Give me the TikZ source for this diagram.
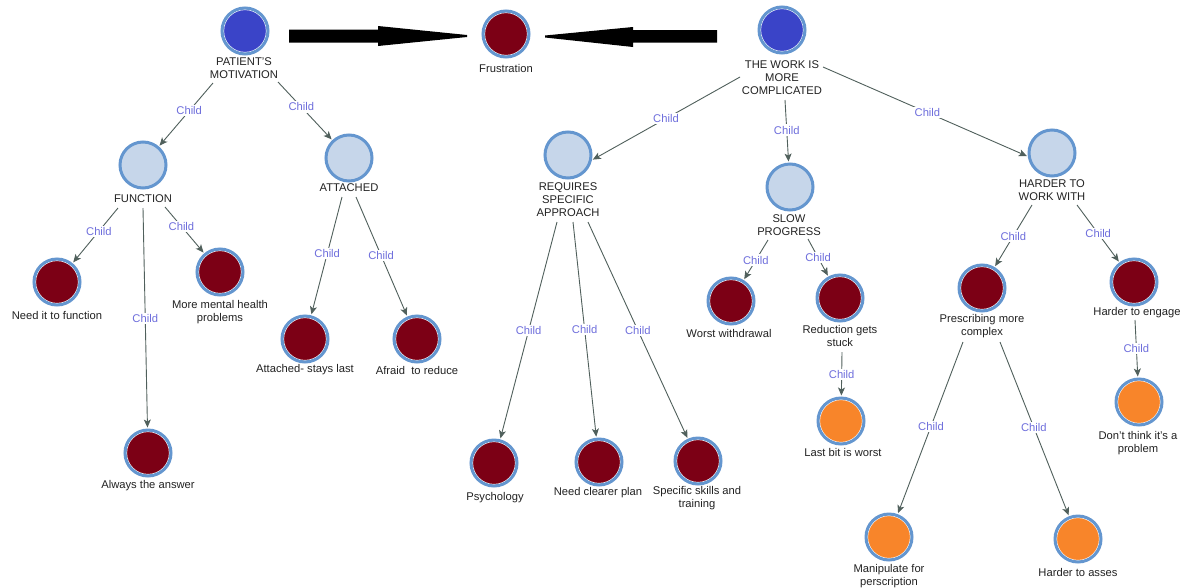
\documentclass[tikz,border=0pt]{standalone}
\usepackage{fontspec}
\setmainfont{Liberation Sans}
\usetikzlibrary{arrows.meta}

\definecolor{ring}{HTML}{6496CF}
\definecolor{topblue}{HTML}{3A44C8}
\definecolor{paleblue}{HTML}{C6D6EA}
\definecolor{darkred}{HTML}{7C0015}
\definecolor{orangefill}{HTML}{F8852A}
\definecolor{edgegray}{HTML}{50605C}
\definecolor{childblue}{HTML}{6E6EDC}
\definecolor{txt}{HTML}{222222}

\tikzset{
  concept/.style={circle, minimum size=46pt, inner sep=0pt, draw=ring, line width=3pt},
  whitering/.style={path picture={\draw[white, line width=0.9pt]
      (path picture bounding box.center) circle (21.4pt);}},
  topnode/.style={concept, fill=topblue, whitering},
  midnode/.style={concept, fill=paleblue},
  leafnode/.style={concept, fill=darkred, whitering},
  endnode/.style={concept, fill=orangefill, whitering},
  lbl/.style={font=\fontsize{11.2}{13}\selectfont, text=txt, align=center, inner sep=1pt},
  ch/.style={font=\fontsize{11.2}{13}\selectfont, text=childblue, fill=white, inner sep=1.5pt},
  edge/.style={draw=edgegray, line width=0.9pt, shorten >=1pt,
      -{Stealth[length=8pt, width=7pt, inset=2pt]}},
}

\begin{document}
\begin{tikzpicture}[x=1pt, y=-1pt]
\fill[white] (0,0) rectangle (1181,587);
\useasboundingbox (0,0) rectangle (1181,587);

% ---- concept circles ----
\node[topnode]  (PM)  at (245,31)  {};
\node[leafnode] (FR)  at (506,34)  {};
\node[topnode]  (WK)  at (782,30)  {};
\node[midnode]  (FN)  at (143,165) {};
\node[midnode]  (AT)  at (349,158) {};
\node[midnode]  (RQ)  at (568,155) {};
\node[midnode]  (SP)  at (790,187) {};
\node[midnode]  (HW)  at (1052,153) {};
\node[leafnode] (N1)  at (57,282)  {};
\node[leafnode] (N2)  at (220,272) {};
\node[leafnode] (N3)  at (148,453) {};
\node[leafnode] (N4)  at (305,339) {};
\node[leafnode] (N5)  at (417,339) {};
\node[leafnode] (N6)  at (494,463) {};
\node[leafnode] (N7)  at (599,462) {};
\node[leafnode] (N8)  at (698,461) {};
\node[leafnode] (N9)  at (731,301) {};
\node[leafnode] (N10) at (840,298) {};
\node[endnode]  (N11) at (841,421) {};
\node[leafnode] (N12) at (982,288) {};
\node[leafnode] (N13) at (1134,282) {};
\node[endnode]  (N14) at (1139,402) {};
\node[endnode]  (N15) at (889,537) {};
\node[endnode]  (N16) at (1078,539) {};

% ---- captions ----
\node[lbl] (PMt)  at (244,68)   {PATIENT'S\\MOTIVATION};
\node[lbl] (FRt)  at (506,68)   {Frustration};
\node[lbl] (WKt)  at (782,78)   {THE WORK IS\\MORE\\COMPLICATED};
\node[lbl] (FNt)  at (143,199)  {FUNCTION};
\node[lbl] (ATt)  at (349,188)  {ATTACHED};
\node[lbl] (RQt)  at (568,200)  {REQUIRES\\SPECIFIC\\APPROACH};
\node[lbl] (SPt)  at (789,225)  {SLOW\\PROGRESS};
\node[lbl] (HWt)  at (1052,190) {HARDER TO\\WORK WITH};
\node[lbl] (N1t)  at (57,315)   {Need it to function};
\node[lbl] (N2t)  at (220,312)  {More mental health\\problems};
\node[lbl] (N3t)  at (148,486)  {Always the answer};
\node[lbl] (N4t)  at (305,370)  {Attached- stays last};
\node[lbl] (N5t)  at (417,370)  {Afraid\ \ to reduce};
\node[lbl] (N6t)  at (495,498)  {Psychology};
\node[lbl] (N7t)  at (598,493)  {Need clearer plan};
\node[lbl] (N8t)  at (697,498)  {Specific skills and\\training};
\node[lbl] (N9t)  at (729,333)  {Worst withdrawal};
\node[lbl] (N10t) at (840,336)  {Reduction gets\\stuck};
\node[lbl] (N11t) at (843,452)  {Last bit is worst};
\node[lbl] (N12t) at (982,326)  {Prescribing more\\complex};
\node[lbl] (N13t) at (1137,313) {Harder to engage};
\node[lbl] (N14t) at (1138,443) {Don't think it's a\\problem};
\node[lbl] (N15t) at (889,576)  {Manipulate for\\perscription};
\node[lbl] (N16t) at (1078,572) {Harder to asses};

% ---- edge start points under the parent captions ----
\coordinate (e1)  at (213,83);
\coordinate (e2)  at (278,82);
\coordinate (e3)  at (118,208);
\coordinate (e4)  at (165,207);
\coordinate (e5)  at (143,208);
\coordinate (e6)  at (342,197);
\coordinate (e7)  at (356,197);
\coordinate (e8)  at (740,77);
\coordinate (e9)  at (785,100);
\coordinate (e10) at (823,67);
\coordinate (e11) at (557,222);
\coordinate (e12) at (573,222);
\coordinate (e13) at (588,222);
\coordinate (e14) at (768,240);
\coordinate (e15) at (808,239);
\coordinate (e16) at (842,352);
\coordinate (e17) at (1032,205);
\coordinate (e18) at (1077,205);
\coordinate (e19) at (1135,320);
\coordinate (e20) at (963,342);
\coordinate (e21) at (1000,342);

% ---- child links ----
\draw[edge] (e1)  -- node[ch, pos=0.44] {Child} (FN);
\draw[edge] (e2)  -- node[ch, pos=0.43] {Child} (AT);
\draw[edge] (e3)  -- node[ch, pos=0.42] {Child} (N1);
\draw[edge] (e4)  -- node[ch, pos=0.42] {Child} (N2);
\draw[edge] (e5)  -- node[ch, pos=0.50] {Child} (N3);
\draw[edge] (e6)  -- node[ch, pos=0.48] {Child} (N4);
\draw[edge] (e7)  -- node[ch, pos=0.49] {Child} (N5);
\draw[edge] (e8)  -- node[ch, pos=0.50] {Child} (RQ.-12);
\draw[edge] (e9)  -- node[ch, pos=0.48] {Child} (SP);
\draw[edge] (e10) -- node[ch, pos=0.51] {Child} (HW.188);
\draw[edge] (e11) -- node[ch, pos=0.50] {Child} (N6);
\draw[edge] (e12) -- node[ch, pos=0.50] {Child} (N7);
\draw[edge] (e13) -- node[ch, pos=0.50] {Child} (N8);
\draw[edge] (e14) -- node[ch, pos=0.50] {Child} (N9);
\draw[edge] (e15) -- node[ch, pos=0.50] {Child} (N10);
\draw[edge] (e16) -- node[ch, pos=0.50] {Child} (N11);
\draw[edge] (e17) -- node[ch, pos=0.50] {Child} (N12);
\draw[edge] (e18) -- node[ch, pos=0.50] {Child} (N13);
\draw[edge] (e19) -- node[ch, pos=0.50] {Child} (N14);
\draw[edge] (e20) -- node[ch, pos=0.49] {Child} (N15);
\draw[edge] (e21) -- node[ch, pos=0.49] {Child} (N16);

% ---- heavy arrows into Frustration ----
\fill[black] (289,29.5) -- (378,29.5) -- (378,26) -- (467,35) -- (467,37)
  -- (378,46) -- (378,42.5) -- (289,42.5) -- cycle;
\fill[black] (717,30) -- (633,30) -- (633,27) -- (545,35.5) -- (545,37.5)
  -- (633,47) -- (633,42.5) -- (717,42.5) -- cycle;
\end{tikzpicture}
\end{document}
